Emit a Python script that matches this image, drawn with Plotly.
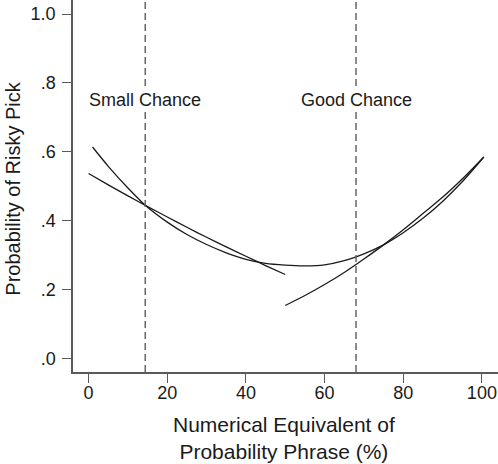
import plotly.graph_objects as go

# Curve U (quadratic-like fit across full range)
u_x = [1, 5, 10, 14.4, 20, 25, 30, 35, 40, 45, 50, 55, 60, 65, 70, 75, 80, 85, 90, 95, 100.5]
u_y = [0.614, 0.558, 0.495, 0.445, 0.396, 0.360, 0.331, 0.307, 0.288, 0.276, 0.271, 0.269,
       0.272, 0.284, 0.304, 0.330, 0.365, 0.407, 0.456, 0.513, 0.585]

# Left segment (below 50%)
b_x = [0, 5, 10, 15, 20, 25, 30, 35, 40, 45, 50]
b_y = [0.537, 0.504, 0.472, 0.441, 0.411, 0.381, 0.352, 0.324, 0.297, 0.270, 0.244]

# Right segment (above 50%)
c_x = [50, 55, 60, 65, 70, 75, 80, 85, 90, 95, 100.5]
c_y = [0.154, 0.183, 0.215, 0.250, 0.289, 0.330, 0.374, 0.421, 0.468, 0.521, 0.585]

phrase_x = [14.4, 68.0]
phrase_labels = ["Small Chance", "Good Chance"]
label_y = 0.75

x_ticks = [0, 20, 40, 60, 80, 100]
y_ticks = [0.0, 0.2, 0.4, 0.6, 0.8, 1.0]
y_ticktext = [".0", ".2", ".4", ".6", ".8", "1.0"]

x_title = "Numerical Equivalent of<br>Probability Phrase (%)"
y_title = "Probability of Risky Pick"

FONT = "Liberation Sans, Arial, sans-serif"
AX = "#5a5a5a"
TXT = "#1a1a1a"

fig = go.Figure()
for xs, ys in [(u_x, u_y), (b_x, b_y), (c_x, c_y)]:
    fig.add_trace(go.Scatter(x=xs, y=ys, mode="lines",
                             line=dict(color=TXT, width=1.3, shape="spline", smoothing=0.8),
                             showlegend=False, hoverinfo="skip"))

for px_, lab in zip(phrase_x, phrase_labels):
    fig.add_shape(type="line", x0=px_, x1=px_, y0=0, y1=1, xref="x", yref="paper",
                  line=dict(color="#666666", width=1.5, dash="7px,4px"))
    fig.add_annotation(x=px_, y=label_y, text=lab, showarrow=False,
                       font=dict(family=FONT, size=18, color=TXT),
                       xanchor="center", yanchor="middle", bgcolor="white")

# axis titles as annotations for exact placement
fig.add_annotation(x=0.497, y=-0.177, xref="paper", yref="paper", text=x_title,
                   showarrow=False, xanchor="center", yanchor="middle",
                   font=dict(family=FONT, size=21, color=TXT))
fig.add_annotation(x=-0.141, y=0.493, xref="paper", yref="paper", text=y_title,
                   showarrow=False, xanchor="center", yanchor="middle", textangle=-90,
                   font=dict(family=FONT, size=20, color=TXT))

fig.update_layout(
    width=498, height=464,
    margin=dict(l=73, r=0, t=0, b=92),
    paper_bgcolor="white", plot_bgcolor="white",
    font=dict(family=FONT, color=TXT),
    hovermode=False,
    xaxis=dict(range=[-3.97, 104.1], tickvals=x_ticks, ticks="outside", ticklen=9,
               tickcolor=AX, tickwidth=1.3, showline=True, linecolor=AX, linewidth=1.5,
               showgrid=False, zeroline=False, automargin=False, ticklabelstandoff=-5,
               tickfont=dict(size=18, family=FONT, color=TXT)),
    yaxis=dict(range=[-0.039, 1.0407], tickvals=y_ticks, ticktext=y_ticktext, ticks="outside",
               ticklen=9, tickcolor=AX, tickwidth=1.3, showline=True, linecolor=AX, linewidth=1.5,
               showgrid=False, zeroline=False, automargin=False, ticklabelstandoff=3,
               tickfont=dict(size=18, family=FONT, color=TXT)),
)

# remove the page's default 8px body margin so the figure fills the window
fig.write_html("out.html", config={"displayModeBar": False},
               post_script="document.body.style.margin='0';document.body.style.overflow='hidden';")
